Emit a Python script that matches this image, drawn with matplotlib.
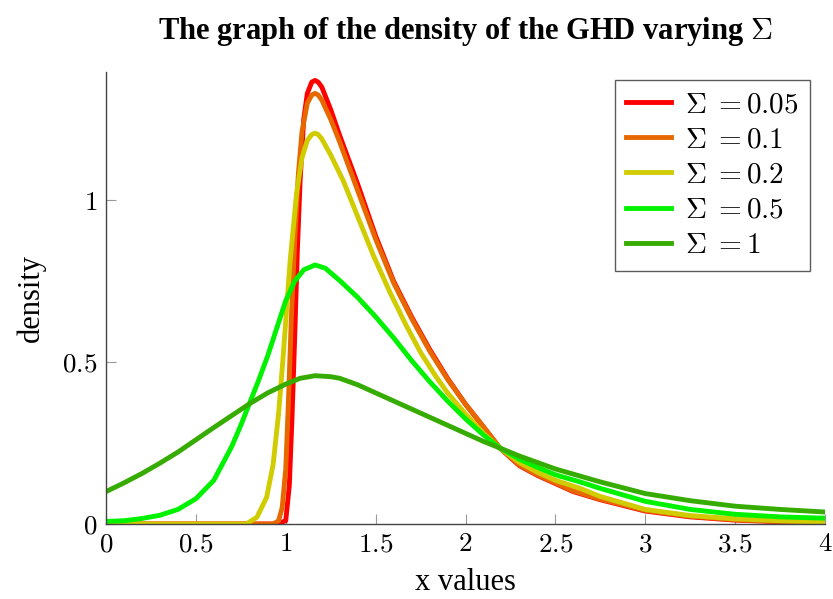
import matplotlib
matplotlib.use("Agg")
import matplotlib.pyplot as plt
from matplotlib.ticker import FuncFormatter

plt.rcParams['font.family'] = ['Liberation Serif', 'DejaVu Serif']
plt.rcParams['mathtext.fontset'] = 'cm'

### values

labels = [r'$\Sigma$ $= 0.05$', r'$\Sigma$ $= 0.1$', r'$\Sigma$ $= 0.2$', r'$\Sigma$ $= 0.5$', r'$\Sigma$ $= 1$']
colors = ['#ff0000', '#e86800', '#d0cc00', '#00f200', '#36ac00']

x_005 = [0, 0.95, 1.0, 1.02, 1.035, 1.05, 1.065, 1.08, 1.1, 1.12, 1.145, 1.163, 1.18, 1.2,
         1.25, 1.3, 1.4, 1.5, 1.6, 1.7, 1.8, 1.9, 2.0, 2.1, 2.19, 2.3, 2.4, 2.5, 2.6, 2.75,
         3.0, 3.25, 3.5, 3.75, 4.0]
y_005 = [0, 0, 0.01, 0.12, 0.33, 0.58, 0.85, 1.06, 1.25, 1.33, 1.365, 1.37, 1.365, 1.35,
         1.28, 1.2, 1.05, 0.89, 0.75, 0.64, 0.54, 0.45, 0.37, 0.30, 0.235, 0.18, 0.15,
         0.125, 0.10, 0.075, 0.04, 0.022, 0.012, 0.007, 0.004]

x_01 = [0, 0.93, 0.96, 0.98, 1.0, 1.015, 1.03, 1.05, 1.07, 1.09, 1.12, 1.145, 1.163, 1.18,
        1.2, 1.25, 1.3, 1.4, 1.5, 1.6, 1.7, 1.8, 1.9, 2.0, 2.1, 2.19, 2.3, 2.4, 2.5, 2.6,
        2.75, 3.0, 3.25, 3.5, 3.75, 4.0]
y_01 = [0, 0, 0.01, 0.05, 0.17, 0.38, 0.62, 0.88, 1.08, 1.21, 1.3, 1.325, 1.33, 1.325,
        1.31, 1.25, 1.18, 1.03, 0.88, 0.745, 0.635, 0.535, 0.447, 0.37, 0.30, 0.236, 0.182,
        0.152, 0.127, 0.102, 0.077, 0.042, 0.024, 0.013, 0.008, 0.005]

x_02 = [0, 0.78, 0.84, 0.894, 0.93, 0.96, 0.986, 1.024, 1.06, 1.09, 1.12, 1.145, 1.163,
        1.18, 1.2, 1.25, 1.32, 1.4, 1.487, 1.58, 1.673, 1.75, 1.83, 1.9, 2.0, 2.1, 2.19,
        2.3, 2.4, 2.5, 2.637, 2.75, 3.0, 3.25, 3.5, 3.75, 4.0]
y_02 = [0, 0, 0.021, 0.083, 0.185, 0.34, 0.52, 0.81, 1.02, 1.13, 1.185, 1.203, 1.207,
        1.203, 1.19, 1.14, 1.06, 0.95, 0.83, 0.715, 0.61, 0.53, 0.46, 0.405, 0.34, 0.28,
        0.235, 0.19, 0.16, 0.135, 0.11, 0.085, 0.045, 0.026, 0.016, 0.01, 0.006]

x_05 = [0, 0.1, 0.2, 0.3, 0.4, 0.5, 0.6, 0.7, 0.75, 0.8, 0.85, 0.9, 0.95, 1.0, 1.05,
        1.1, 1.163, 1.22, 1.3, 1.4, 1.5, 1.6, 1.7, 1.8, 1.9, 2.0, 2.1, 2.19, 2.3, 2.4,
        2.5, 2.637, 2.75, 3.0, 3.25, 3.5, 3.75, 4.0]
y_05 = [0.008, 0.01, 0.017, 0.027, 0.045, 0.078, 0.135, 0.24, 0.305, 0.375, 0.445, 0.52,
        0.605, 0.69, 0.75, 0.785, 0.80, 0.79, 0.752, 0.70, 0.64, 0.575, 0.505, 0.44, 0.38,
        0.325, 0.275, 0.235, 0.2, 0.175, 0.152, 0.13, 0.11, 0.07, 0.045, 0.03, 0.022, 0.018]

x_1 = [0, 0.1, 0.2, 0.3, 0.4, 0.5, 0.6, 0.7, 0.8, 0.9, 1.0, 1.08, 1.163, 1.25, 1.3, 1.4,
       1.5, 1.6, 1.7, 1.8, 1.9, 2.0, 2.1, 2.19, 2.3, 2.4, 2.5, 2.75, 3.0, 3.25, 3.5, 3.75,
       4.0]
y_1 = [0.10, 0.127, 0.156, 0.188, 0.222, 0.26, 0.298, 0.335, 0.372, 0.405, 0.432, 0.45,
       0.458, 0.455, 0.45, 0.43, 0.405, 0.38, 0.355, 0.33, 0.305, 0.28, 0.255, 0.235, 0.21,
       0.19, 0.17, 0.13, 0.094, 0.072, 0.055, 0.045, 0.037]

series = [(x_005, y_005), (x_01, y_01), (x_02, y_02), (x_05, y_05), (x_1, y_1)]

x_ticks = [0, 0.5, 1, 1.5, 2, 2.5, 3, 3.5, 4]
y_ticks = [0, 0.5, 1]

fig = plt.figure(figsize=(8.33, 5.99), dpi=100)
ax = fig.add_axes([106/833, 75/599, 719/833, 452/599])

for (xs, ys), lab, c in zip(series, labels, colors):
    ax.plot(xs, ys, color=c, lw=3.5, label=lab, solid_joinstyle='round')

ax.set_xlim(0, 4)
ax.set_ylim(0, 1.396)
ax.set_xticks(x_ticks)
ax.set_yticks(y_ticks)

def fmt(v, pos):
    return '$%g$' % v
ax.xaxis.set_major_formatter(FuncFormatter(fmt))
ax.yaxis.set_major_formatter(FuncFormatter(fmt))

ax.tick_params(direction='in', length=7, width=0.8, color='#999999', labelsize=19.5, pad=6)
for s in ['top', 'right']:
    ax.spines[s].set_visible(False)
for s in ['left', 'bottom']:
    ax.spines[s].set_color('#444444')
    ax.spines[s].set_linewidth(1.0)

ax.set_xlabel('x values', fontsize=22, labelpad=8)
ax.set_ylabel('density', fontsize=22, labelpad=12)
ax.set_title(r'The graph of the density of the GHD varying $\Sigma$', fontsize=22,
             fontweight='bold', pad=24)

leg = ax.legend(loc='upper right', bbox_to_anchor=(0.979, 0.982), borderaxespad=0,
                fontsize=21, frameon=True, fancybox=False, edgecolor='#333333',
                handlelength=1.55, handletextpad=0.45, labelspacing=0.3, borderpad=0.4)
leg.get_frame().set_linewidth(1.0)

fig.savefig('out.png', dpi=100)
